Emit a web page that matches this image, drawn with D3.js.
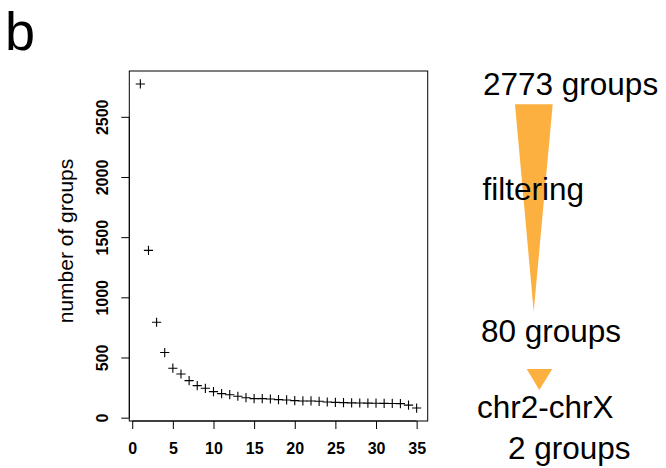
<!DOCTYPE html>
<html>
<head>
<meta charset="utf-8">
<script src="https://cdn.jsdelivr.net/npm/d3@7"></script>
<style>
  html, body { margin: 0; padding: 0; background: #fff; }
  svg { display: block; font-family: "Liberation Sans", Arial, sans-serif; }
</style>
</head>
<body>
<svg id="chart" width="666" height="468"></svg>
<script>
// ---- data ----
const rank = [1,2,3,4,5,6,7,8,9,10,11,12,13,14,15,16,17,18,19,20,21,22,23,24,25,26,27,28,29,30,31,32,33,34,35];
const groupCounts = [2773,1390,793,541,411,363,308,266,244,216,200,191,178,166,158,158,155,150,147,142,139,139,136,130,127,125,123,122,121,120,119,118,117,104,80];
const xTicks = [0,5,10,15,20,25,30,35];
const yTicks = [0,500,1000,1500,2000,2500];
const yLabel = "number of groups";
const panelLabel = "b";
const flowLabels = ["2773 groups", "filtering", "80 groups", "chr2-chrX", "2 groups"];

// ---- layout ----
const svg = d3.select("#chart");
const box = {left: 129.3, right: 427.7, top: 71, bottom: 421};

function padDomain(lo, hi) { const p = (hi - lo) * 0.04; return [lo - p, hi + p]; }
const x = d3.scaleLinear().domain(padDomain(d3.min(rank), d3.max(rank))).range([box.left, box.right]);
const y = d3.scaleLinear().domain(padDomain(d3.min(groupCounts), d3.max(groupCounts))).range([box.bottom, box.top]);

// panel label
svg.append("text").attr("x", 5).attr("y", 50).attr("font-size", 54).attr("fill", "#000").text(panelLabel);

// box
svg.append("rect").attr("x", box.left).attr("y", box.top)
  .attr("width", box.right - box.left).attr("height", box.bottom - box.top)
  .attr("fill", "none").attr("stroke", "#000").attr("stroke-width", 1);

// x axis
const xAxis = d3.axisBottom(x).tickValues(xTicks).tickFormat(d3.format("d")).tickSize(8).tickPadding(4).tickSizeOuter(0);
const gx = svg.append("g").attr("transform", `translate(0,${box.bottom})`).call(xAxis);
gx.select(".domain").attr("d", `M${x(xTicks[0])},0H${x(xTicks[xTicks.length-1])}`).attr("stroke", "#000");
gx.selectAll(".tick line").attr("stroke", "#000");
gx.selectAll(".tick text").attr("font-family", "Liberation Sans, Arial, sans-serif")
  .attr("font-size", 16).attr("font-weight", "bold").attr("fill", "#000")
  .attr("dy", null).attr("y", 32.5);

// y axis
const yAxis = d3.axisLeft(y).tickValues(yTicks).tickFormat(d3.format("d")).tickSize(8).tickSizeOuter(0);
const gy = svg.append("g").attr("transform", `translate(${box.left},0)`).call(yAxis);
gy.select(".domain").attr("d", `M0,${y(yTicks[0])}V${y(yTicks[yTicks.length-1])}`).attr("stroke", "#000");
gy.selectAll(".tick line").attr("stroke", "#000");
gy.selectAll(".tick text")
  .attr("font-family", "Liberation Sans, Arial, sans-serif")
  .attr("font-size", 16).attr("font-weight", "bold").attr("fill", "#000")
  .attr("x", null).attr("dy", null)
  .attr("text-anchor", "middle")
  .attr("transform", "translate(-21,0) rotate(-90)");

// y label
svg.append("text")
  .attr("transform", `translate(73,${(box.top + box.bottom) / 2 - 5}) rotate(-90)`)
  .attr("text-anchor", "middle").attr("font-size", 21).attr("fill", "#000")
  .text(yLabel);

// points (plus markers)
const s = 4.6;
svg.append("g").selectAll("path").data(rank.map((r, i) => [r, groupCounts[i]]))
  .join("path")
  .attr("d", d => `M${x(d[0]) - s},${y(d[1])}H${x(d[0]) + s}M${x(d[0])},${y(d[1]) - s}V${y(d[1]) + s}`)
  .attr("stroke", "#000").attr("stroke-width", 1.1).attr("fill", "none");

// ---- right side flow diagram ----
const orange = "#FBB040";
svg.append("path").attr("d", "M515,104.3L552.7,104.3L533.7,311.7Z").attr("fill", orange);
svg.append("path").attr("d", "M526.7,369L552.3,369L539.3,390Z").attr("fill", orange);

const flowPos = [[483, 95], [482.5, 200], [481, 341.5], [477, 418], [508, 459]];
flowLabels.forEach((t, i) => {
  svg.append("text").attr("x", flowPos[i][0]).attr("y", flowPos[i][1])
    .attr("font-size", 31.5).attr("fill", "#000").text(t);
});
</script>
</body>
</html>
